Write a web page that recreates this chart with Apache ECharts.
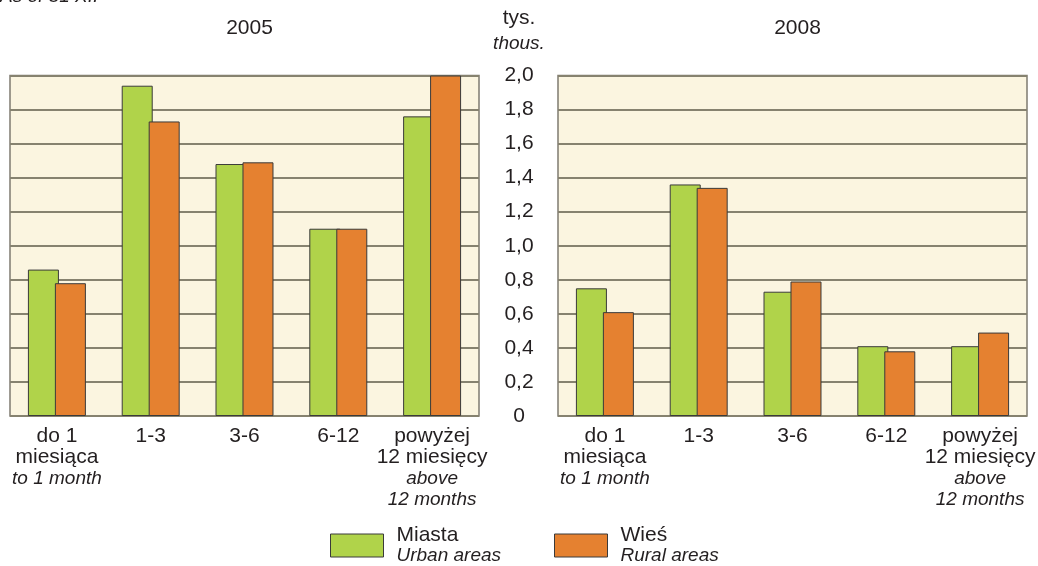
<!DOCTYPE html>
<html><head><meta charset="utf-8">
<script src="https://cdn.jsdelivr.net/npm/echarts@6/dist/echarts.min.js"></script>
<style>html,body{margin:0;padding:0;background:#fff}#c{width:1038px;height:566px}</style>
</head><body><div id="c"></div>
<script>
var categoriesPl = ['do 1\nmiesiąca', '1-3', '3-6', '6-12', 'powyżej\n12 miesięcy'];
var categoriesEn = ['to 1 month', '', '', '', 'above\n12 months'];
var urban2005 = [0.86, 1.94, 1.48, 1.10, 1.76];
var rural2005 = [0.78, 1.73, 1.49, 1.10, 2.00];
var urban2008 = [0.75, 1.36, 0.73, 0.41, 0.41];
var rural2008 = [0.61, 1.34, 0.79, 0.38, 0.49];
var yTicks = ['0', '0,2', '0,4', '0,6', '0,8', '1,0', '1,2', '1,4', '1,6', '1,8', '2,0'];

var FONT = '"Liberation Sans", Arial, sans-serif';
var GREEN = '#B0D34A', ORANGE = '#E58130', BG = '#FBF5E0', GRID = '#86826f';
var TXT = '#231f20';

function catLabel(v, i) {
  var s = categoriesPl[i].split('\n').map(function (l) { return '{a|' + l + '}'; });
  if (categoriesEn[i]) s = s.concat(categoriesEn[i].split('\n').map(function (l) { return '{i|' + l + '}'; }));
  return s.join('\n');
}

function xAxis(idx) {
  return {
    type: 'category', gridIndex: idx, data: categoriesPl,
    axisLine: { show: false }, axisTick: { show: false },
    axisLabel: {
      interval: 0, margin: 10, formatter: catLabel,
      rich: {
        a: { fontFamily: FONT, fontSize: 21, color: TXT, lineHeight: 21 },
        i: { fontFamily: FONT, fontSize: 19, fontStyle: 'italic', color: TXT, lineHeight: 21 }
      }
    }
  };
}
function yAxis(idx, showLabels) {
  return {
    type: 'value', gridIndex: idx, min: 0, max: 2, interval: 0.2,
    position: 'right',
    axisLine: { show: false }, axisTick: { show: false },
    splitLine: { show: true, lineStyle: { color: GRID, width: 2 } },
    axisLabel: {
      show: showLabels, align: 'center', margin: 40,
      fontFamily: FONT, fontSize: 21, color: TXT,
      formatter: function (v) { return yTicks[Math.round(v * 5)]; }
    }
  };
}
function bars(name, data, color, idx) {
  return {
    type: 'bar', name: name, xAxisIndex: idx, yAxisIndex: idx, data: data,
    barWidth: 31, barGap: '-13%',
    itemStyle: { color: color, borderColor: '#3a3a3a', borderWidth: 1 }
  };
}
var legendRich = {
  a: { fontFamily: FONT, fontSize: 21, color: TXT, lineHeight: 21, padding: [0, 0, 0, 8] },
  i: { fontFamily: FONT, fontSize: 19, fontStyle: 'italic', color: TXT, lineHeight: 20, padding: [0, 0, 0, 8] }
};

var chart = echarts.init(document.getElementById('c'), null, { renderer: 'canvas' });
chart.setOption({
  animation: false,
  grid: [
    { left: 10, top: 75.5, width: 469, height: 340.5, show: true, backgroundColor: BG, borderColor: '#7f7b70', borderWidth: 1.5, outerBoundsMode: 'none', containLabel: false },
    { left: 558, top: 75.5, width: 469, height: 340.5, show: true, backgroundColor: BG, borderColor: '#7f7b70', borderWidth: 1.5, outerBoundsMode: 'none', containLabel: false }
  ],
  title: [
    { text: '2005', left: 244.5, top: 13, textAlign: 'center', textStyle: { fontFamily: FONT, fontSize: 21, fontWeight: 'normal', color: TXT } },
    { text: '2008', left: 792.5, top: 13, textAlign: 'center', textStyle: { fontFamily: FONT, fontSize: 21, fontWeight: 'normal', color: TXT } }
  ],
  graphic: [
    { type: 'text', left: 0, top: -13, style: { text: 'As of 31 XII', font: 'italic 19px ' + FONT, fill: TXT } },
    { type: 'text', x: 519, y: 18, style: { text: 'tys.', font: '21px ' + FONT, fill: TXT, textAlign: 'center', textVerticalAlign: 'middle' } },
    { type: 'text', x: 519, y: 44, style: { text: 'thous.', font: 'italic 19px ' + FONT, fill: TXT, textAlign: 'center', textVerticalAlign: 'middle' } }
  ],
  legend: [
    {
      data: ['Miasta'], left: 325, top: 520, itemWidth: 53, itemHeight: 23, itemGap: 0, itemTextGap: 6,
      selectedMode: false, icon: 'rect',
      itemStyle: { borderColor: '#3a3a3a', borderWidth: 1 },
      formatter: function () { return '{a|Miasta}\n{i|Urban areas}'; },
      textStyle: { rich: legendRich }
    },
    {
      data: ['Wieś'], left: 549, top: 520, itemWidth: 53, itemHeight: 23, itemGap: 0, itemTextGap: 6,
      selectedMode: false, icon: 'rect',
      itemStyle: { borderColor: '#3a3a3a', borderWidth: 1 },
      formatter: function () { return '{a|Wieś}\n{i|Rural areas}'; },
      textStyle: { rich: legendRich }
    }
  ],
  xAxis: [xAxis(0), xAxis(1)],
  yAxis: [yAxis(0, true), yAxis(1, false)],
  series: [
    bars('Miasta', urban2005, GREEN, 0),
    bars('Wieś', rural2005, ORANGE, 0),
    bars('Miasta', urban2008, GREEN, 1),
    bars('Wieś', rural2008, ORANGE, 1)
  ]
});
</script></body></html>
